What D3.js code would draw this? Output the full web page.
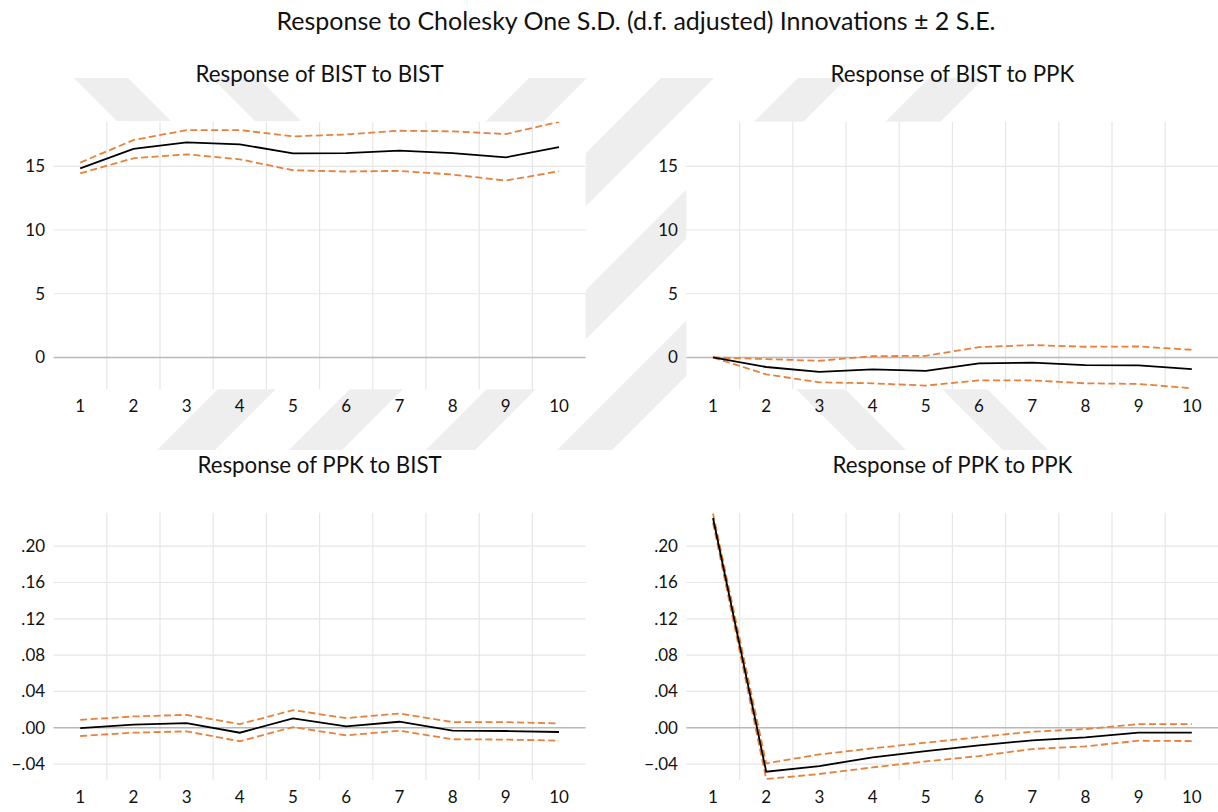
<!DOCTYPE html>
<html>
<head>
<meta charset="utf-8">
<script src="https://cdn.jsdelivr.net/npm/d3@7"></script>
<style>
  body { margin: 0; background: #fff; }
  svg text { font-family: Lato, "Noto Sans", sans-serif; fill: #111; }
</style>
</head>
<body>
<script>
// periods on the x axis
var periods = ["1", "2", "3", "4", "5", "6", "7", "8", "9", "10"];

// Response of BIST to BIST
var bistBist   = [14.84, 16.36, 16.88, 16.72, 16.02, 16.04, 16.23, 16.04, 15.70, 16.51];
var bistBistUp = [15.29, 17.06, 17.84, 17.84, 17.35, 17.50, 17.79, 17.74, 17.53, 18.49];
var bistBistLo = [14.45, 15.63, 15.94, 15.55, 14.69, 14.59, 14.64, 14.35, 13.88, 14.61];

// Response of BIST to PPK
var bistPpk   = [0, -0.75, -1.14, -0.94, -1.06, -0.47, -0.41, -0.60, -0.62, -0.91];
var bistPpkUp = [0, -0.13, -0.26, 0.10, 0.13, 0.81, 0.97, 0.84, 0.86, 0.60];
var bistPpkLo = [0, -1.33, -1.95, -2.03, -2.21, -1.80, -1.80, -2.03, -2.08, -2.42];

// Response of PPK to BIST
var ppkBist   = [-0.0004, 0.0033, 0.0051, -0.0055, 0.0102, 0.0015, 0.0066, -0.0033, -0.0036, -0.0047];
var ppkBistUp = [0.0087, 0.0124, 0.0142, 0.0040, 0.0193, 0.0106, 0.0157, 0.0062, 0.0062, 0.0047];
var ppkBistLo = [-0.0091, -0.0055, -0.0040, -0.0149, 0.0007, -0.0084, -0.0033, -0.0127, -0.0131, -0.0142];

// Response of PPK to PPK
var ppkPpk   = [0.231, -0.0484, -0.0422, -0.0327, -0.0257, -0.0194, -0.0139, -0.0106, -0.0055, -0.0055];
var ppkPpkUp = [0.236, -0.0393, -0.0294, -0.0228, -0.0165, -0.0103, -0.0044, -0.0015, 0.0040, 0.0040];
var ppkPpkLo = [0.226, -0.0565, -0.0510, -0.0437, -0.0371, -0.0312, -0.0235, -0.0206, -0.0143, -0.0147];

// tick values
var topTicks = [0, 5, 10, 15];
var bottomTicks = [-0.04, 0, 0.04, 0.08, 0.12, 0.16, 0.20];

var svgWidth = 1218;
var svgHeight = 812;

var svg = d3.select("body")
  .append("svg")
  .attr("width", svgWidth)
  .attr("height", svgHeight);

// faint watermark stripes behind the charts (decoration only)
// "/" stripes: x + y between c0 and c1, "\" stripes: x - y between c0 and c1
var stripes = [
  { dir: 1, c0: 607, c1: 665, y0: 78, y1: 450 },
  { dir: 1, c0: 739, c1: 792, y0: 78, y1: 450 },
  { dir: 1, c0: 876, c1: 925, y0: 78, y1: 450 },
  { dir: 1, c0: 1007, c1: 1062, y0: 78, y1: 450 },
  { dir: -1, c0: -4, c1: 50, y0: 78, y1: 121 },
  { dir: -1, c0: 134, c1: 180, y0: 78, y1: 121 },
  { dir: -1, c0: 407, c1: 456, y0: 389, y1: 450 },
  { dir: -1, c0: 553, c1: 598, y0: 389, y1: 450 }
];

svg.append("g")
  .selectAll("polygon")
  .data(stripes)
  .enter()
  .append("polygon")
  .attr("points", function(s) {
    var xa = s.dir === 1 ? (c, yy) => c - yy : (c, yy) => c + yy;
    return [[xa(s.c0, s.y0), s.y0], [xa(s.c1, s.y0), s.y0],
            [xa(s.c1, s.y1), s.y1], [xa(s.c0, s.y1), s.y1]].join(" ");
  })
  .attr("fill", "#eeeeee");

// main title
svg.append("text")
  .attr("x", 636)
  .attr("y", 30)
  .attr("text-anchor", "middle")
  .style("font-size", "25px")
  .text("Response to Cholesky One S.D. (d.f. adjusted) Innovations \u00b1 2 S.E.");

var decFormat = function(d) {
  return d3.format(".2f")(d).replace("0.", ".");
};

var panels = [
  { title: "Response of BIST to BIST", left: 53.6, top: 121.7, bottom: 389.3,
    domain: [-2.5, 18.5], ticks: topTicks, fmt: d3.format("d"),
    mid: bistBist, up: bistBistUp, lo: bistBistLo },
  { title: "Response of BIST to PPK", left: 686.4, top: 121.7, bottom: 389.3,
    domain: [-2.5, 18.5], ticks: topTicks, fmt: d3.format("d"),
    mid: bistPpk, up: bistPpkUp, lo: bistPpkLo },
  { title: "Response of PPK to BIST", left: 53.6, top: 512.7, bottom: 780,
    domain: [-0.0576, 0.2369], ticks: bottomTicks, fmt: decFormat,
    mid: ppkBist, up: ppkBistUp, lo: ppkBistLo },
  { title: "Response of PPK to PPK", left: 686.4, top: 512.7, bottom: 780,
    domain: [-0.0576, 0.2369], ticks: bottomTicks, fmt: decFormat,
    mid: ppkPpk, up: ppkPpkUp, lo: ppkPpkLo }
];

var plotWidth = 532;

panels.forEach(function(p, i) {
  var h = p.bottom - p.top;
  var g = svg.append("g")
    .attr("transform", `translate(${p.left}, ${p.top})`);

  var x = d3.scaleBand().domain(periods).range([0, plotWidth]);
  var y = d3.scaleLinear().domain(p.domain).range([h, 0]);

  g.append("rect")
    .attr("width", plotWidth)
    .attr("height", h)
    .attr("fill", "#fff");

  // vertical grid lines between periods
  g.selectAll(".vgrid")
    .data(periods.slice(1))
    .enter()
    .append("line")
    .attr("x1", d => x(d))
    .attr("x2", d => x(d))
    .attr("y1", 0)
    .attr("y2", h)
    .attr("stroke", "#e6e6e6")
    .attr("stroke-width", 1.2);

  // horizontal grid lines
  g.selectAll(".hgrid")
    .data(p.ticks)
    .enter()
    .append("line")
    .attr("x1", 0)
    .attr("x2", plotWidth)
    .attr("y1", d => y(d))
    .attr("y2", d => y(d))
    .attr("stroke", d => d === 0 ? "#b8b8b8" : "#e6e6e6")
    .attr("stroke-width", d => d === 0 ? 1.5 : 1.2);

  // axes, text only
  var leftAxis = d3.axisLeft(y).tickValues(p.ticks).tickFormat(p.fmt)
    .tickSize(0).tickPadding(8.5);
  var bottomAxis = d3.axisBottom(x).tickSize(0).tickPadding(11);

  var ya = g.append("g").call(leftAxis);
  var xa = g.append("g").attr("transform", `translate(0, ${h})`).call(bottomAxis);
  [ya, xa].forEach(function(a) {
    a.select(".domain").remove();
    a.selectAll("text")
      .style("font-size", "17px")
      .style("font-family", "Lato, sans-serif")
      .attr("fill", "#111");
  });

  // clip lines to the plot area
  var clipId = "clip" + i;
  g.append("clipPath").attr("id", clipId)
    .append("rect").attr("width", plotWidth).attr("height", h);

  var line = d3.line()
    .x((d, j) => x(periods[j]) + x.bandwidth() / 2)
    .y(d => y(d));

  var lines = g.append("g").attr("clip-path", `url(#${clipId})`);

  [p.up, p.lo].forEach(function(s) {
    lines.append("path")
      .datum(s)
      .attr("d", line)
      .attr("fill", "none")
      .attr("stroke", "#e8803a")
      .attr("stroke-width", 1.8)
      .attr("stroke-dasharray", "7,3.5");
  });

  lines.append("path")
    .datum(p.mid)
    .attr("d", line)
    .attr("fill", "none")
    .attr("stroke", "#000")
    .attr("stroke-width", 1.8);

  // panel title
  g.append("text")
    .attr("x", plotWidth / 2)
    .attr("y", -39.7)
    .attr("text-anchor", "middle")
    .style("font-size", "22.3px")
    .text(p.title);
});
</script>
</body>
</html>
